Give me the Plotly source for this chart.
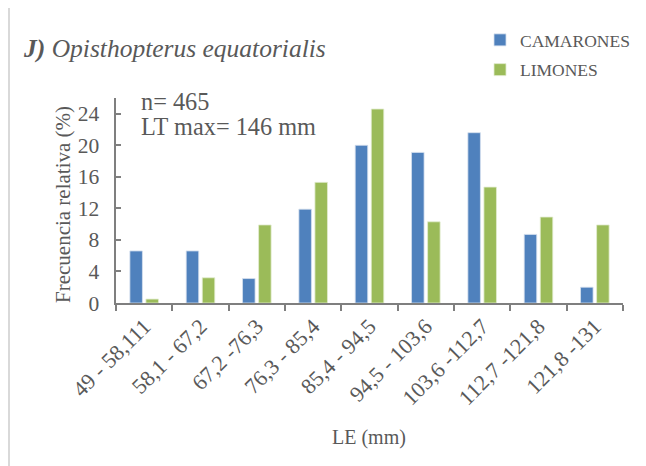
import plotly.graph_objects as go

categories = ["49 - 58,111", "58,1 - 67,2", "67,2 -76,3", "76,3 - 85,4", "85,4 - 94,5",
              "94,5 - 103,6", "103,6 -112,7", "112,7 -121,8", "121,8 -131"]
camarones = [6.6, 6.6, 3.1, 11.9, 20.0, 19.1, 21.6, 8.7, 2.0]
limones = [0.5, 3.2, 9.9, 15.3, 24.6, 10.3, 14.7, 10.9, 9.9]
y_ticks = [0, 4, 8, 12, 16, 20, 24]
y_tick_labels = [str(v) for v in y_ticks]

FONT = "'Liberation Serif', 'Times New Roman', Times, serif"
GRAY = "#595959"
AX = "#7f7f7f"

OFF = 8  # page body offset
W, H = 646, 466
L, R, T, B = 116 - OFF, W - (623 - OFF), 98 - OFF, H - (303 - OFF)
pw, ph = W - L - R, H - T - B

def px(x):
    return (x - OFF - L) / pw

def py(y):
    return (H - B - (y - OFF)) / ph

def f(size):
    return dict(family=FONT, size=size, color=GRAY)

fig = go.Figure()
fig.add_trace(go.Bar(x=categories, y=camarones, name="CAMARONES", legendgroup="a",
                     marker=dict(color="#4F81BD", line=dict(color="#d6e0ee", width=0.8))))
fig.add_trace(go.Bar(x=categories, y=limones, name="LIMONES", legendgroup="b",
                     marker=dict(color="#9BBB59", line=dict(color="#e2ecd0", width=0.8))))

fig.update_layout(
    width=W, height=H,
    margin=dict(l=L, r=R, t=T, b=B),
    paper_bgcolor="white", plot_bgcolor="white",
    font=f(17),
    barmode="group", bargap=0.43, bargroupgap=0.22,
    showlegend=True,
    legend=dict(x=px(480), y=py(22), xanchor="left", yanchor="top",
                font=f(17.5), tracegroupgap=4, itemwidth=30, bgcolor="rgba(0,0,0,0)"),
    xaxis=dict(type="category", showline=True, linecolor=AX, linewidth=1.5,
               ticks="outside", tickson="boundaries", ticklen=6, tickcolor=AX, tickwidth=1.5,
               tickangle=-45, tickfont=f(22), showgrid=False),
    yaxis=dict(range=[0, 26], tickvals=y_ticks,
               ticktext=[t + "\u2002" for t in y_tick_labels],
               showline=True, linecolor=AX, linewidth=1.5,
               ticks="inside", ticklen=5, tickcolor=AX, tickwidth=1.5,
               tickfont=f(21.5), showgrid=False, zeroline=False),
)

annotations = [
    dict(x=px(21), y=py(48), text="<b><i>J)</i></b><i> Opisthopterus equatorialis</i>",
         font=f(25.5), xanchor="left", yanchor="middle"),
    dict(x=px(139), y=py(101), text="n= 465", font=f(24.3), xanchor="left", yanchor="middle"),
    dict(x=px(139), y=py(126), text="LT max= 146 mm", font=f(24.3), xanchor="left", yanchor="middle"),
    dict(x=px(369), y=py(437), text="LE (mm)", font=f(20), xanchor="center", yanchor="middle"),
    dict(x=px(63), y=py(205), text="Frecuencia relativa (%)", textangle=-90,
         font=f(21), xanchor="center", yanchor="middle"),
]
for a in annotations:
    a.update(xref="paper", yref="paper", showarrow=False)
    fig.add_annotation(**a)

# outer chart frame (chart area border)
fig.add_shape(type="rect", xref="paper", yref="paper", x0=px(9), x1=px(700), y0=py(520), y1=py(7),
              line=dict(color="#d9d9d9", width=2), fillcolor="rgba(0,0,0,0)", layer="below")

fig.write_html("out.html")
